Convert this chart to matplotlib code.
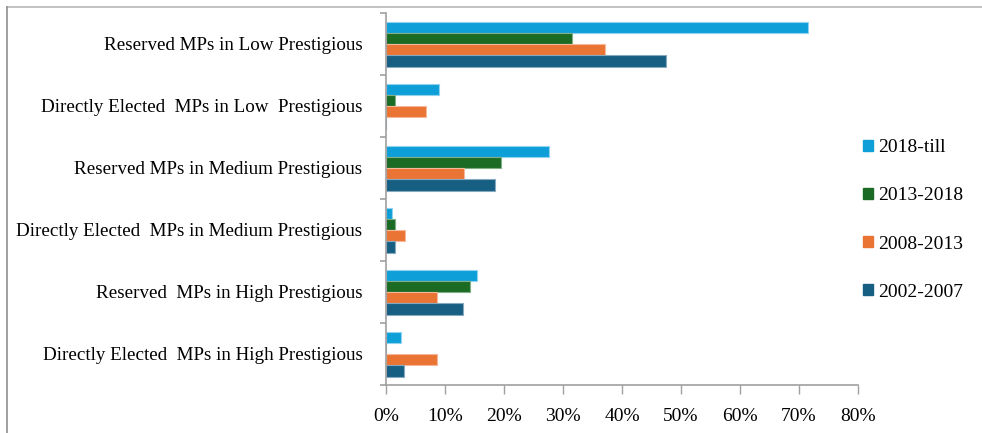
import matplotlib
matplotlib.use("Agg")
import matplotlib.pyplot as plt
import numpy as np
from matplotlib.lines import Line2D

categories = [
    "Reserved MPs in Low Prestigious",
    "Directly Elected  MPs in Low  Prestigious",
    "Reserved MPs in Medium Prestigious",
    "Directly Elected  MPs in Medium Prestigious",
    "Reserved  MPs in High Prestigious",
    "Directly Elected  MPs in High Prestigious",
]
series_names = ["2018-till", "2013-2018", "2008-2013", "2002-2007"]
v_2018_till = [71.6, 8.9, 27.6, 1.1, 15.5, 2.5]
v_2013_2018 = [31.6, 1.6, 19.5, 1.6, 14.2, 0.0]
v_2008_2013 = [37.2, 6.7, 13.2, 3.2, 8.7, 8.7]
v_2002_2007 = [47.5, 0.0, 18.5, 1.5, 13.0, 3.0]
xticks = [0, 10, 20, 30, 40, 50, 60, 70, 80]
xtick_labels = ["0%", "10%", "20%", "30%", "40%", "50%", "60%", "70%", "80%"]

colors = ["#0f9fd8", "#1b6b25", "#ea7434", "#175f82"]
edges = ["#8fd3f0", "#7fae85", "#f5b898", "#86a9c0"]
series = [v_2018_till, v_2013_2018, v_2008_2013, v_2002_2007]

plt.rcParams["font.family"] = ["Liberation Serif", "DejaVu Serif"]

fig = plt.figure(figsize=(9.82, 4.33), dpi=100)
ax = fig.add_axes([386/982, 1-385/433, (858-386)/982, (385-13)/433])

y = np.arange(len(categories))
h = 0.18
offsets = [-0.265, -0.085, 0.095, 0.275]
for vals, c, e, off, name in zip(series, colors, edges, offsets, series_names):
    ax.barh(y + off, vals, height=h, color=c, edgecolor=e, linewidth=0.8, label=name)

ax.set_ylim(len(categories) - 0.5, -0.5)
ax.set_xlim(0, 80)
ax.set_yticks(y)
ax.set_yticklabels(categories, fontsize=13.7)
ax.set_yticks(np.arange(-0.5, len(categories), 1.0), minor=True)
ax.tick_params(axis="y", which="major", length=0, pad=17)
ax.tick_params(axis="y", which="minor", length=4.5, width=1.2, color="#a0a0a0", direction="out")
ax.set_xticks(xticks)
ax.set_xticklabels(xtick_labels, fontsize=14)
ax.tick_params(axis="x", length=6.5, width=1.0, color="#a0a0a0", pad=10)

for s in ["top", "right"]:
    ax.spines[s].set_visible(False)
for s in ["left", "bottom"]:
    ax.spines[s].set_color("#a0a0a0")
    ax.spines[s].set_linewidth(1.2)

handles = [plt.Rectangle((0, 0), 1, 1, color=c) for c in colors]
fig.legend(handles, series_names, loc="center left", bbox_to_anchor=(855/982, 1-220/433),
           frameon=False, fontsize=14, handlelength=0.5, handleheight=0.5,
           handletextpad=0.3, labelspacing=1.6, borderaxespad=0)

# partial outer frame
fig.add_artist(Line2D([7/982, 1], [1-7/433, 1-7/433], color="#b8b8b8", lw=1.2, transform=fig.transFigure))
fig.add_artist(Line2D([7/982, 7/982], [0, 1-7/433], color="#909090", lw=1.2, transform=fig.transFigure))

fig.savefig("out.png", dpi=100)
